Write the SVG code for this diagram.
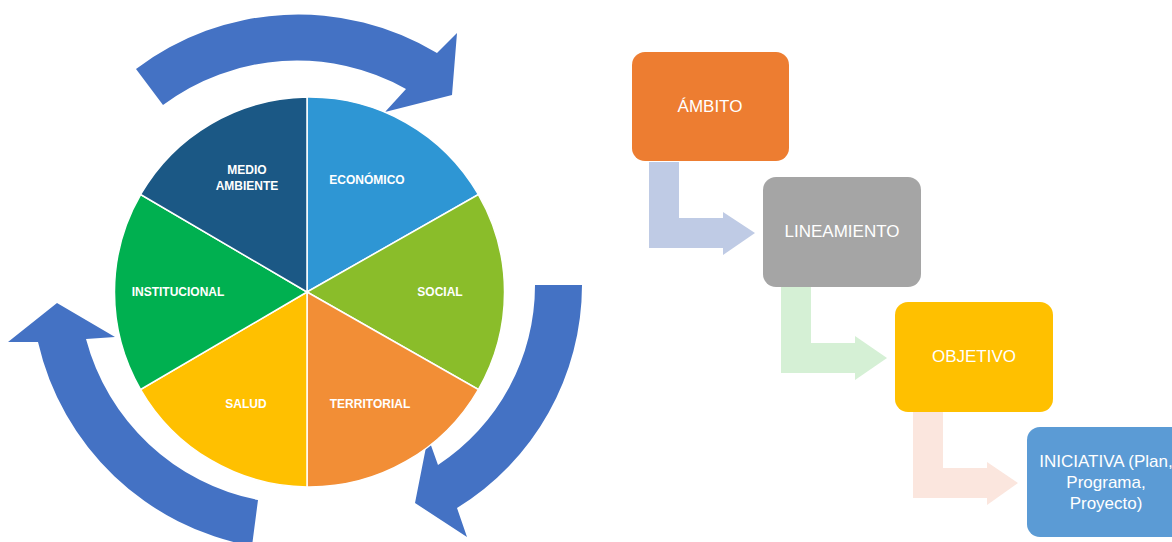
<svg xmlns="http://www.w3.org/2000/svg" width="1172" height="542" viewBox="0 0 1172 542">
<style>
.slice{stroke:#ffffff;stroke-width:1.5}
.pl{font-family:"Liberation Sans",Arial,sans-serif;font-weight:bold;font-size:12px;fill:#ffffff;text-anchor:middle}
.bl{font-family:"Liberation Sans",Arial,sans-serif;font-size:17px;fill:#ffffff;text-anchor:middle}
.carrow{fill:#4472C4}
</style>
<rect width="1172" height="542" fill="#ffffff"/>
<g id="cycle-arrows">
<path class="carrow" d="M 136 69 A 269 269 0 0 1 437 53 L 457 33 L 452 95 L 385 112 L 406 89 A 224 224 0 0 0 163 105 Z"/>
<path class="carrow" d="M 535 285 L 582 285 A 262 262 0 0 1 457 508 L 467 537 L 415 503 L 428 437 L 438 465 A 215 215 0 0 0 535 285 Z"/>
<path class="carrow" d="M 258 500 A 222 222 0 0 1 86 339 L 115 337 L 57 303 L 8 342 L 38 342 A 268 268 0 0 0 252 546 Z"/>
</g>
<g id="pie">
<g id="economico"><path class="slice" fill="#2E96D4" d="M 307 292 L 307 97 A 195 195 0 0 1 478.4 194.5 Z"/><text class="pl" x="367" y="184">ECONÓMICO</text></g>
<g id="social"><path class="slice" fill="#8ABD2A" d="M 307 292 L 478.4 194.5 A 195 195 0 0 1 478.4 389.5 Z"/><text class="pl" x="440" y="296">SOCIAL</text></g>
<g id="territorial"><path class="slice" fill="#F28E36" d="M 307 292 L 478.4 389.5 A 195 195 0 0 1 307 487 Z"/><text class="pl" x="370" y="408">TERRITORIAL</text></g>
<g id="salud"><path class="slice" fill="#FFC000" d="M 307 292 L 307 487 A 195 195 0 0 1 140.6 389.5 Z"/><text class="pl" x="246" y="408">SALUD</text></g>
<g id="institucional"><path class="slice" fill="#00B050" d="M 307 292 L 140.6 389.5 A 195 195 0 0 1 140.6 194.5 Z"/><text class="pl" x="178" y="296">INSTITUCIONAL</text></g>
<g id="medio-ambiente"><path class="slice" fill="#1B5885" d="M 307 292 L 140.6 194.5 A 195 195 0 0 1 307 97 Z"/><text class="pl" x="247" y="174">MEDIO</text><text class="pl" x="247" y="190">AMBIENTE</text></g>
</g>
<g id="connectors">
<path fill="#BFCBE5" d="M 649 162 L 679 162 L 679 218 L 723 218 L 723 212 L 755 233 L 723 255 L 723 248 L 649 248 Z"/>
<path fill="#D5F0D5" d="M 781 287 L 811 287 L 811 343 L 855 343 L 855 336 L 887 358 L 855 380 L 855 373 L 781 373 Z"/>
<path fill="#FBE6DE" d="M 913 412 L 943 412 L 943 468 L 987 468 L 987 462 L 1018 483 L 987 505 L 987 498 L 913 498 Z"/>
</g>
<g id="ambito"><rect x="632" y="52" width="157" height="109" rx="13" fill="#ED7D31"/><text class="bl" x="710" y="112">ÁMBITO</text></g>
<g id="lineamiento"><rect x="763" y="177" width="158" height="110" rx="13" fill="#A5A5A5"/><text class="bl" x="842" y="237">LINEAMIENTO</text></g>
<g id="objetivo"><rect x="895" y="302" width="158" height="110" rx="13" fill="#FFC000"/><text class="bl" x="974" y="362">OBJETIVO</text></g>
<g id="iniciativa"><rect x="1027" y="427" width="158" height="110" rx="13" fill="#5B9BD5"/><text class="bl" x="1106" y="467">INICIATIVA (Plan,</text><text class="bl" x="1106" y="488">Programa,</text><text class="bl" x="1106" y="509">Proyecto)</text></g>
</svg>
